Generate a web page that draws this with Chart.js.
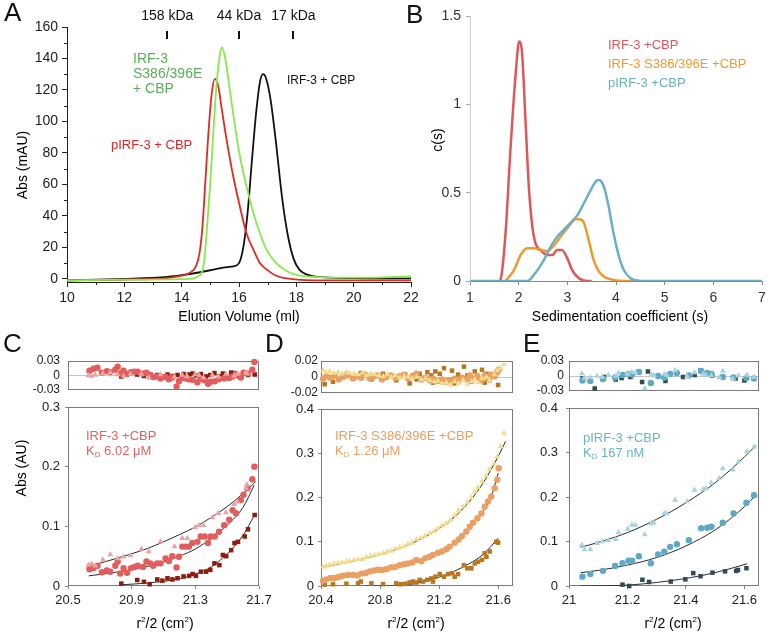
<!DOCTYPE html>
<html>
<head>
<meta charset="utf-8">
<script src="https://cdn.jsdelivr.net/npm/chart.js@4.4.0/dist/chart.umd.min.js"></script>
<style>
  body { margin: 0; background: #fff; width: 768px; height: 633px; position: relative; overflow: hidden;
         font-family: "Liberation Sans", Arial, sans-serif; }
  canvas { position: absolute; }
  .t { position: absolute; white-space: nowrap; line-height: 1; }
  .c { transform: translate(-50%, -50%); }
  .r { transform: translate(-50%, -50%) rotate(-90deg); }
  .big { font-size: 26px; color: #111; }
  sub { font-size: 8px; vertical-align: -2px; }
</style>
</head>
<body>
<canvas id="chartA"></canvas>
<canvas id="chartB"></canvas>
<canvas id="resC"></canvas>
<canvas id="mainC"></canvas>
<canvas id="resD"></canvas>
<canvas id="mainD"></canvas>
<canvas id="resE"></canvas>
<canvas id="mainE"></canvas>

<!-- panel letters and titles -->
<div class="t big" style="left:4px;top:-1px">A</div>
<div class="t big" style="left:406px;top:1px">B</div>
<div class="t big" style="left:3px;top:330px">C</div>
<div class="t big" style="left:265px;top:330px">D</div>
<div class="t big" style="left:523px;top:330px">E</div>

<div class="t r" style="left:22px;top:165px;font-size:14px">Abs (mAU)</div>
<div class="t c" style="left:239px;top:316px;font-size:14px">Elution Volume (ml)</div>
<div class="t r" style="left:437px;top:140px;font-size:14px">c(s)</div>
<div class="t c" style="left:620px;top:316px;font-size:14px">Sedimentation coefficient (s)</div>
<div class="t r" style="left:21px;top:468px;font-size:14px">Abs (AU)</div>
<div class="t c" style="left:165px;top:623px;font-size:14px">r<sup style="font-size:8px">2</sup>/2 (cm<sup style="font-size:8px">2</sup>)</div>
<div class="t c" style="left:416px;top:623px;font-size:14px">r<sup style="font-size:8px">2</sup>/2 (cm<sup style="font-size:8px">2</sup>)</div>
<div class="t c" style="left:673px;top:623px;font-size:14px">r<sup style="font-size:8px">2</sup>/2 (cm<sup style="font-size:8px">2</sup>)</div>

<!-- annotations -->
<div class="t" style="left:133px;top:51px;font-size:14px;line-height:15px;color:#5cae5c">IRF-3<br>S386/396E<br>+ CBP</div>
<div class="t" style="left:111px;top:138px;font-size:13px;color:#d82828">pIRF-3 + CBP</div>
<div class="t" style="left:287px;top:74px;font-size:12px;color:#111">IRF-3 + CBP</div>
<div class="t" style="left:608px;top:35px;font-size:13px;line-height:19px">
  <span style="color:#e0575a">IRF-3 +CBP</span><br>
  <span style="color:#ee9b2d">IRF-3 S386/396E +CBP</span><br>
  <span style="color:#6aafc8">pIRF-3 +CBP</span>
</div>
<div class="t" style="left:86px;top:428px;font-size:13px;line-height:15px;color:#e06464">IRF-3 +CBP<br>K<sub>D</sub> 6.02 μM</div>
<div class="t" style="left:335px;top:428px;font-size:13px;line-height:15px;color:#e9a062">IRF-3 S386/396E +CBP<br>K<sub>D</sub> 1.26 μM</div>
<div class="t" style="left:583px;top:430px;font-size:13px;line-height:15px;color:#6ab4cc">pIRF-3 +CBP<br>K<sub>D</sub> 167 nM</div>

<script>
// ---- A: gel filtration traces (elution volume ml, abs mAU)
const aBlackX = [10, 12, 13.5, 14.06, 14.64, 15.22, 15.57, 15.8, 16.0, 16.15, 16.3, 16.45, 16.6, 16.73, 16.84, 16.95, 17.1, 17.3, 17.5, 17.7, 17.9, 18.1, 18.5, 19, 20, 22];
const aBlackY = [-1, 0, 1.3, 2.5, 4.2, 6.3, 7.4, 8, 10, 20, 42, 75, 106, 125, 130, 127, 114, 85, 52, 28, 13, 6, 2, 1, 0.5, 0.3];
const aRedX = [10, 12, 13.5, 14.0, 14.3, 14.5, 14.62, 14.72, 14.82, 14.93, 15.05, 15.16, 15.28, 15.39, 15.57, 15.8, 16.03, 16.26, 16.5, 16.73, 16.96, 17.3, 17.8, 19, 22];
const aRedY = [-1, -0.5, 0.5, 2, 4, 8, 16, 32, 60, 92, 118, 127, 122, 109, 88, 65, 46, 29, 18.6, 10, 6, 2, 0, -1, -1];
const aGreenX = [10, 12, 14.3, 14.58, 14.76, 14.87, 14.99, 15.1, 15.22, 15.34, 15.41, 15.51, 15.68, 15.86, 16.03, 16.26, 16.5, 16.73, 16.96, 17.3, 17.66, 18.12, 19, 20, 21, 22];
const aGreenY = [-1, -0.5, 0, 1.7, 8, 29, 59, 92, 124, 143, 147, 141, 120, 97, 78, 59, 42, 29, 18.6, 10, 5, 2, 1, 0.8, 1, 1.5];
const aTicksX = [10, 12, 14, 16, 18, 20, 22];
const aMinorX = [11, 13, 15, 17, 19, 21];
const aTicksY = [0, 20, 40, 60, 80, 100, 120, 140, 160];
const aMinorY = [10, 30, 50, 70, 90, 110, 130, 150];
const markerVolumes = [13.5, 16.0, 17.9];
const markerLabels = ['158 kDa', '44 kDa', '17 kDa'];

// ---- B: c(s) distributions
const bRedX = [1.6, 1.63, 1.73, 1.83, 1.94, 2.01, 2.07, 2.14, 2.21, 2.28, 2.35, 2.45, 2.59, 2.69, 2.79, 2.89, 3.0, 3.1, 3.24, 3.41, 3.5];
const bRedY = [0, 0.01, 0.27, 0.74, 1.18, 1.355, 1.29, 0.91, 0.53, 0.31, 0.21, 0.175, 0.147, 0.147, 0.175, 0.175, 0.128, 0.062, 0.015, 0, 0];
const bOrangeX = [1.73, 1.9, 2.04, 2.18, 2.31, 2.45, 2.59, 2.72, 2.86, 3.03, 3.17, 3.25, 3.34, 3.44, 3.54, 3.68, 3.89, 4.16, 4.5];
const bOrangeY = [0, 0.06, 0.147, 0.185, 0.185, 0.175, 0.17, 0.2, 0.25, 0.31, 0.35, 0.35, 0.33, 0.23, 0.12, 0.043, 0.01, 0, 0];
const bBlueX = [1, 2.18, 2.31, 2.52, 2.66, 2.79, 2.93, 3.07, 3.2, 3.34, 3.48, 3.61, 3.65, 3.75, 3.85, 3.95, 4.06, 4.16, 4.3, 4.5, 7];
const bBlueY = [0, 0, 0.034, 0.12, 0.195, 0.25, 0.29, 0.33, 0.37, 0.44, 0.515, 0.57, 0.572, 0.535, 0.42, 0.27, 0.14, 0.062, 0.015, 0, 0];
const bTicksX = [1, 2, 3, 4, 5, 6, 7];
const bTicksY = [0, 0.5, 1, 1.5];

// ---- C: IRF-3 + CBP equilibrium
const cTriX = [20.628, 20.649, 20.671, 20.719, 20.765, 20.812, 20.849, 20.892, 20.961, 21.007, 21.081, 21.169, 21.218, 21.249, 21.298, 21.323, 21.351, 21.407, 21.445, 21.492, 21.544, 21.565, 21.618, 21.624];
const cTriY = [0.035, 0.037, 0.034, 0.044, 0.053, 0.046, 0.049, 0.051, 0.062, 0.058, 0.074, 0.066, 0.080, 0.080, 0.098, 0.102, 0.102, 0.115, 0.122, 0.123, 0.137, 0.141, 0.164, 0.170];
const cTriRes = [0.000, -0.001, 0.001, 0.004, 0.006, 0.002, -0.001, 0.003, 0.003, -0.004, 0.002, -0.003, 0.001, -0.002, 0.002, 0.001, -0.004, 0.001, -0.002, 0.003, -0.001, 0.003, 0.006, 0.004];
const cCircX = [20.635, 20.660, 20.685, 20.713, 20.744, 20.765, 20.797, 20.812, 20.828, 20.849, 20.871, 20.896, 20.917, 20.938, 20.972, 20.993, 21.018, 21.035, 21.060, 21.081, 21.113, 21.134, 21.155, 21.182, 21.197, 21.218, 21.239, 21.260, 21.281, 21.313, 21.334, 21.359, 21.380, 21.397, 21.422, 21.449, 21.481, 21.513, 21.534, 21.555, 21.586, 21.603, 21.628, 21.658, 21.671];
const cCircY = [0.028, 0.030, 0.034, 0.023, 0.026, 0.024, 0.034, 0.041, 0.021, 0.030, 0.022, 0.030, 0.032, 0.034, 0.032, 0.041, 0.038, 0.034, 0.038, 0.038, 0.046, 0.042, 0.050, 0.031, 0.049, 0.066, 0.066, 0.066, 0.072, 0.074, 0.083, 0.083, 0.072, 0.083, 0.083, 0.091, 0.102, 0.111, 0.127, 0.122, 0.144, 0.153, 0.164, 0.179, 0.200];
const cCircRes = [0.010, 0.014, 0.016, 0.006, 0.009, 0.007, 0.012, 0.018, 0.004, 0.010, 0.003, 0.007, 0.008, 0.008, 0.004, 0.006, 0.001, -0.003, -0.002, -0.006, -0.003, -0.008, -0.004, -0.023, -0.012, -0.005, -0.006, -0.008, -0.009, -0.014, -0.007, -0.010, -0.017, -0.013, -0.012, -0.008, -0.006, -0.005, -0.002, 0.003, -0.004, 0.006, 0.004, 0.012, 0.028];
const cSqX = [20.835, 20.935, 20.977, 21.013, 21.061, 21.093, 21.125, 21.156, 21.188, 21.226, 21.261, 21.283, 21.304, 21.335, 21.367, 21.394, 21.420, 21.451, 21.473, 21.494, 21.525, 21.546, 21.568, 21.610, 21.631, 21.673];
const cSqY = [0.004, 0.010, 0.007, 0.003, 0.011, 0.009, 0.013, 0.011, 0.013, 0.016, 0.017, 0.020, 0.017, 0.024, 0.024, 0.027, 0.038, 0.035, 0.052, 0.050, 0.060, 0.072, 0.074, 0.083, 0.095, 0.119];
const cSqRes = [-0.002, 0.002, -0.001, -0.003, 0.001, -0.002, 0.002, -0.001, 0.001, 0.003, 0.002, 0.004, 0.000, 0.003, -0.002, 0.001, 0.005, -0.002, 0.004, -0.003, 0.006, 0.005, -0.001, 0.004, 0.001, 0.002];
const cFitTopX = [20.62, 20.75, 20.9, 21.0, 21.1, 21.2, 21.3, 21.4, 21.5, 21.6, 21.68];
const cFitTopY = [0.032, 0.042, 0.054, 0.063, 0.074, 0.086, 0.099, 0.115, 0.133, 0.155, 0.175];
const cFitMidX = [20.63, 20.8, 20.95, 21.1, 21.2, 21.3, 21.4, 21.5, 21.6, 21.67];
const cFitMidY = [0.017, 0.023, 0.030, 0.040, 0.050, 0.062, 0.080, 0.102, 0.132, 0.169];
const cFitLowX = [20.83, 21.0, 21.2, 21.3, 21.4, 21.5, 21.6, 21.67];
const cFitLowY = [0.002, 0.005, 0.012, 0.020, 0.032, 0.054, 0.085, 0.118];
const cTicksX = [20.5, 20.9, 21.3, 21.7];
const cTicksY = [0, 0.1, 0.2, 0.3];
const cResTicks = [-0.03, 0, 0.03];

// ---- D: IRF-3 S386/396E + CBP
const dTriX = [20.414, 20.436, 20.459, 20.488, 20.515, 20.542, 20.572, 20.594, 20.623, 20.651, 20.678, 20.707, 20.736, 20.763, 20.791, 20.820, 20.849, 20.876, 20.903, 20.933, 20.962, 20.989, 21.016, 21.046, 21.079, 21.107, 21.136, 21.165, 21.192, 21.219, 21.249, 21.278, 21.305, 21.332, 21.362, 21.391, 21.418, 21.441, 21.463, 21.490, 21.520, 21.542, 21.572, 21.594, 21.617, 21.639];
const dTriY = [0.043, 0.046, 0.048, 0.050, 0.052, 0.053, 0.055, 0.056, 0.059, 0.060, 0.060, 0.065, 0.068, 0.070, 0.072, 0.074, 0.078, 0.079, 0.084, 0.087, 0.090, 0.095, 0.098, 0.105, 0.109, 0.113, 0.119, 0.123, 0.130, 0.136, 0.142, 0.149, 0.160, 0.170, 0.179, 0.188, 0.200, 0.213, 0.223, 0.236, 0.249, 0.264, 0.277, 0.292, 0.315, 0.345];
const dTriRes = [0.008, 0.006, 0.007, 0.005, 0.006, 0.004, 0.006, 0.005, 0.004, 0.003, 0.005, 0.002, 0.004, 0.003, 0.002, 0.001, 0.003, 0.000, 0.002, -0.001, 0.001, 0.000, -0.002, 0.000, -0.003, -0.002, -0.004, -0.006, -0.005, -0.008, -0.007, -0.010, -0.006, -0.008, -0.004, -0.009, -0.006, -0.003, -0.007, -0.002, 0.000, -0.004, 0.003, 0.008, 0.011, 0.016];
const dCircX = [20.414, 20.436, 20.465, 20.493, 20.520, 20.549, 20.583, 20.617, 20.646, 20.673, 20.700, 20.730, 20.759, 20.786, 20.813, 20.842, 20.872, 20.903, 20.933, 20.962, 20.989, 21.018, 21.046, 21.079, 21.107, 21.136, 21.158, 21.192, 21.219, 21.249, 21.271, 21.305, 21.332, 21.355, 21.384, 21.407, 21.429, 21.459, 21.486, 21.508, 21.531, 21.553, 21.576, 21.594, 21.603];
const dCircY = [0.012, 0.015, 0.018, 0.018, 0.021, 0.023, 0.025, 0.025, 0.024, 0.028, 0.029, 0.033, 0.035, 0.037, 0.036, 0.038, 0.042, 0.043, 0.047, 0.049, 0.051, 0.053, 0.059, 0.056, 0.063, 0.066, 0.070, 0.075, 0.078, 0.083, 0.089, 0.098, 0.105, 0.113, 0.123, 0.134, 0.143, 0.153, 0.164, 0.179, 0.191, 0.202, 0.221, 0.240, 0.266];
const dCircRes = [-0.002, 0.001, -0.001, 0.002, -0.003, 0.000, 0.002, -0.002, 0.001, -0.001, 0.003, -0.002, 0.001, 0.002, -0.003, 0.000, 0.002, -0.001, 0.001, 0.003, -0.002, 0.000, 0.004, -0.003, -0.001, -0.004, -0.002, -0.005, -0.003, -0.006, -0.004, -0.002, -0.005, -0.001, -0.003, 0.002, -0.002, 0.001, -0.004, 0.002, -0.001, 0.003, 0.001, 0.006, 0.009];
const dSqX = [20.425, 20.481, 20.572, 20.651, 20.669, 20.741, 20.820, 20.910, 20.940, 20.971, 21.000, 21.023, 21.046, 21.068, 21.091, 21.120, 21.147, 21.158, 21.174, 21.204, 21.233, 21.260, 21.287, 21.305, 21.328, 21.368, 21.391, 21.418, 21.441, 21.463, 21.490, 21.508, 21.520, 21.542, 21.587, 21.599];
const dSqY = [0.003, 0.004, 0.005, 0.006, 0.010, 0.006, 0.004, 0.006, 0.004, 0.005, 0.008, 0.010, 0.008, 0.014, 0.010, 0.014, 0.017, 0.010, 0.021, 0.027, 0.021, 0.027, 0.029, 0.021, 0.027, 0.047, 0.040, 0.040, 0.051, 0.055, 0.059, 0.074, 0.066, 0.078, 0.100, 0.098];
const dSqRes = [-0.009, -0.006, 0.004, 0.002, 0.005, -0.003, 0.004, -0.004, 0.001, 0.003, -0.008, 0.002, -0.003, 0.004, -0.002, 0.006, 0.002, -0.007, 0.007, 0.004, 0.011, -0.004, 0.008, -0.008, 0.003, 0.013, 0.002, -0.006, 0.007, -0.002, 0.009, -0.007, 0.004, -0.004, 0.006, -0.010];
const dFitTopX = [20.41, 20.6, 20.8, 21.0, 21.2, 21.3, 21.4, 21.5, 21.6, 21.65];
const dFitTopY = [0.042, 0.055, 0.071, 0.094, 0.130, 0.155, 0.189, 0.234, 0.293, 0.327];
const dFitMidX = [20.41, 20.6, 20.8, 21.0, 21.1, 21.2, 21.3, 21.4, 21.5, 21.55, 21.6];
const dFitMidY = [0.012, 0.022, 0.035, 0.052, 0.062, 0.077, 0.097, 0.127, 0.170, 0.200, 0.255];
const dFitLowX = [20.7, 20.9, 21.0, 21.1, 21.2, 21.3, 21.4, 21.5, 21.6];
const dFitLowY = [0.0, 0.0, 0.003, 0.010, 0.020, 0.033, 0.050, 0.072, 0.108];
const dTicksX = [20.4, 20.8, 21.2, 21.6];
const dTicksY = [0, 0.1, 0.2, 0.3, 0.4];
const dResTicks = [-0.02, 0, 0.02];

// ---- E: pIRF-3 + CBP
const eTriX = [21.044, 21.053, 21.073, 21.096, 21.114, 21.135, 21.160, 21.169, 21.201, 21.215, 21.227, 21.259, 21.282, 21.290, 21.326, 21.334, 21.363, 21.404, 21.429, 21.459, 21.468, 21.487, 21.514, 21.526, 21.560, 21.580, 21.609, 21.633];
const eTriY = [0.092, 0.082, 0.082, 0.096, 0.100, 0.103, 0.105, 0.120, 0.128, 0.137, 0.137, 0.116, 0.141, 0.142, 0.163, 0.163, 0.193, 0.190, 0.216, 0.217, 0.219, 0.232, 0.242, 0.264, 0.261, 0.279, 0.302, 0.313];
const eTriRes = [0.005, -0.004, -0.003, 0.000, -0.002, 0.002, 0.000, 0.006, 0.004, 0.008, 0.007, -0.025, 0.003, 0.001, 0.004, 0.002, 0.011, -0.001, 0.007, 0.004, 0.002, 0.001, -0.003, 0.010, -0.006, 0.001, 0.002, -0.002];
const eCircX = [21.046, 21.073, 21.116, 21.158, 21.183, 21.204, 21.216, 21.239, 21.280, 21.305, 21.326, 21.346, 21.369, 21.410, 21.452, 21.473, 21.487, 21.526, 21.563, 21.607, 21.633];
const eCircY = [0.021, 0.027, 0.034, 0.045, 0.051, 0.057, 0.057, 0.067, 0.051, 0.071, 0.077, 0.088, 0.094, 0.103, 0.130, 0.131, 0.133, 0.142, 0.163, 0.187, 0.204];
const eCircRes = [-0.009, -0.010, -0.006, -0.003, 0.002, 0.004, 0.003, 0.008, -0.014, 0.000, -0.003, 0.004, 0.006, 0.001, 0.010, 0.006, 0.004, -0.002, -0.003, -0.004, -0.005];
const eSqX = [21.183, 21.206, 21.251, 21.274, 21.348, 21.398, 21.425, 21.450, 21.491, 21.534, 21.572, 21.578, 21.607];
const eSqY = [0.003, 0.000, 0.014, 0.009, 0.010, 0.015, 0.029, 0.022, 0.030, 0.033, 0.034, 0.036, 0.040];
const eSqResX = [21.046, 21.088, 21.12, 21.16, 21.18, 21.21, 21.25, 21.27, 21.33, 21.39, 21.43, 21.45, 21.49, 21.57, 21.6];
const eSqRes = [-0.005, -0.025, -0.002, -0.007, -0.004, -0.002, -0.012, 0.009, -0.010, -0.002, 0.002, 0.011, 0.001, -0.005, -0.009];
const eFitTopX = [21.04, 21.1, 21.2, 21.3, 21.4, 21.5, 21.6, 21.64];
const eFitTopY = [0.087, 0.098, 0.120, 0.150, 0.187, 0.232, 0.290, 0.316];
const eFitMidX = [21.04, 21.1, 21.2, 21.3, 21.4, 21.5, 21.6, 21.64];
const eFitMidY = [0.030, 0.035, 0.047, 0.064, 0.090, 0.126, 0.178, 0.205];
const eFitLowX = [21.04, 21.2, 21.3, 21.4, 21.5, 21.61];
const eFitLowY = [0.0, 0.002, 0.008, 0.017, 0.030, 0.050];
const eTicksX = [21, 21.2, 21.4, 21.6];
const eTicksY = [0, 0.1, 0.2, 0.3, 0.4];
const eResTicks = [-0.03, 0, 0.03];

Chart.defaults.font.family = '"Liberation Sans", Arial, sans-serif';

const zip = (xs, ys) => xs.map((x, i) => ({ x: x, y: ys[i] }));

// full frame round the plot area (panels C-E)
const boxPlugin = {
  id: 'box',
  beforeDatasetsDraw(chart) {
    const o = chart.options.plugins.box;
    if (!o || !o.color) return;
    const a = chart.chartArea, ctx = chart.ctx;
    ctx.save();
    ctx.strokeStyle = o.color;
    ctx.lineWidth = o.width;
    ctx.strokeRect(a.left + 0.5, a.top + 0.5, a.right - a.left - 1, a.bottom - a.top - 1);
    ctx.restore();
  }
};

// minor ticks and size markers for panel A
const aExtras = {
  id: 'aExtras',
  afterDraw(chart) {
    const ctx = chart.ctx, xs = chart.scales.x, ys = chart.scales.y, a = chart.chartArea;
    ctx.save();
    ctx.strokeStyle = '#222';
    ctx.lineWidth = 1;
    ctx.beginPath();
    aMinorX.forEach(v => {
      const px = Math.round(xs.getPixelForValue(v)) + 0.5;
      ctx.moveTo(px, a.bottom); ctx.lineTo(px, a.bottom + 3);
    });
    aMinorY.forEach(v => {
      const py = Math.round(ys.getPixelForValue(v)) + 0.5;
      ctx.moveTo(a.left, py); ctx.lineTo(a.left - 3, py);
    });
    ctx.stroke();
    ctx.fillStyle = '#111';
    ctx.font = '14px "Liberation Sans", Arial, sans-serif';
    ctx.textAlign = 'center';
    ctx.textBaseline = 'middle';
    markerVolumes.forEach((v, i) => {
      const px = xs.getPixelForValue(v);
      ctx.fillText(markerLabels[i], px, 16);
      ctx.fillRect(Math.round(px) - 1, 31, 2, 8);
    });
    ctx.restore();
  }
};

function axis(min, max, ticks, o) {
  return {
    type: 'linear',
    display: o.display !== false,
    min: min, max: max,
    afterBuildTicks: s => { s.ticks = ticks.map(v => ({ value: v })); },
    afterFit: s => { if (s.isHorizontal()) s.height = o.size; else s.width = o.size; },
    ticks: {
      display: o.labels !== false,
      color: o.color || '#222',
      font: { size: o.font || 13 },
      padding: o.pad || 3,
      autoSkip: false, maxRotation: 0,
      callback: v => String(v)
    },
    grid: {
      display: true,
      drawOnChartArea: !!o.zero,
      color: o.zero ? (ctx => (ctx.tick && ctx.tick.value === 0) ? '#c4c4c4' : 'rgba(0,0,0,0)') : '#222',
      drawTicks: (o.tick || 0) > 0,
      tickLength: o.tick || 0,
      tickColor: o.tickColor || '#222',
      lineWidth: 1
    },
    border: { display: o.border !== undefined, color: o.border || '#222', width: 1 }
  };
}

// canvas is placed so that the plot area lands on box (page pixels)
function makeChart(id, box, yW, xH, pad, datasets, scales, plugins, boxColor) {
  const c = document.getElementById(id);
  const w = (box.r - box.l) + yW + pad.l + pad.r;
  const h = (box.b - box.t) + xH + pad.t + pad.b;
  c.width = w; c.height = h;
  c.style.width = w + 'px'; c.style.height = h + 'px';
  c.style.left = (box.l - yW - pad.l) + 'px';
  c.style.top = (box.t - pad.t) + 'px';
  return new Chart(c, {
    type: 'scatter',
    data: { datasets: datasets },
    options: {
      responsive: false, animation: false, devicePixelRatio: 1,
      layout: { padding: { left: pad.l, right: pad.r, top: pad.t, bottom: pad.b } },
      plugins: { legend: { display: false }, tooltip: { enabled: false }, box: { color: boxColor || null, width: 1 } },
      scales: scales
    },
    plugins: [boxPlugin].concat(plugins || [])
  });
}

const curve = (xs, ys, color, w) => ({
  data: zip(xs, ys), showLine: true, pointRadius: 0, borderColor: color, borderWidth: w,
  cubicInterpolationMode: 'monotone', fill: false
});
const pts = (xs, ys, color, style, r) => ({
  data: zip(xs, ys), showLine: false, pointStyle: style, pointRadius: r,
  backgroundColor: color, borderColor: color, borderWidth: 0, clip: false
});
const fit = (xs, ys) => curve(xs, ys, '#2b2b2b', 1);

// ---- panel A
makeChart('chartA', { l: 67, r: 411, t: 27, b: 282 }, 60, 30, { l: 4, r: 14, t: 27, b: 2 }, [
  curve(aGreenX, aGreenY, '#86ea4a', 1.8),
  curve(aRedX, aRedY, '#e02a22', 1.8),
  curve(aBlackX, aBlackY, '#111', 1.8)
], {
  x: axis(10, 22, aTicksX, { size: 30, tick: 5, pad: 3, font: 14, border: '#222' }),
  y: axis(-2, 160, aTicksY, { size: 60, tick: 5, pad: 4, font: 14, border: '#222' })
}, [aExtras]);

// ---- panel B
makeChart('chartB', { l: 470, r: 762, t: 16, b: 281 }, 40, 30, { l: 2, r: 12, t: 16, b: 2 }, [
  curve(bBlueX, bBlueY, '#6aafc8', 2.5),
  curve(bOrangeX, bOrangeY, '#ee9b2d', 2.5),
  curve(bRedX, bRedY, '#e0575a', 2.5)
], {
  x: axis(1, 7, bTicksX, { size: 30, tick: 4, pad: 5, font: 14, color: '#333', border: '#8a8a8a', tickColor: '#8a8a8a' }),
  y: axis(0, 1.5, bTicksY, { size: 40, tick: 4, pad: 5, font: 14, color: '#333', border: '#cfcfcf', tickColor: '#aaa' })
});

// ---- residual and fit panels C, D, E
function resPanel(id, box, ticks, yPad, sets) {
  makeChart(id, box, 45, 0, { l: 2, r: 4, t: 18, b: 18 }, sets, {
    x: axis(box.xmin, box.xmax, [], { display: false, size: 0 }),
    y: axis(ticks[0], ticks[ticks.length - 1], ticks, { size: 45, pad: yPad, zero: true, font: 12 })
  }, [], '#7a7a7a');
}
function mainPanel(id, box, xTicks, yTicks, yPad, sets) {
  makeChart(id, box, 45, 28, { l: 2, r: 22, t: 18, b: 2 }, sets, {
    x: axis(box.xmin, box.xmax, xTicks, { size: 28, tick: 3, pad: 4, tickColor: '#888' }),
    y: axis(yTicks[0], yTicks[yTicks.length - 1], yTicks, { size: 45, tick: 3, pad: yPad, tickColor: '#888' })
  }, [], '#7a7a7a');
}

const cRes = { l: 68, r: 259, t: 361, b: 390, xmin: 20.5, xmax: 21.7 };
const cMain = { l: 68, r: 259, t: 407, b: 586, xmin: 20.5, xmax: 21.7 };
resPanel('resC', cRes, cResTicks, 8, [
  pts(cTriX, cTriRes, '#eba3a3', 'triangle', 3.5),
  pts(cCircX, cCircRes, '#e35d5d', 'circle', 3.2),
  pts(cSqX, cSqRes, '#8e1b0e', 'rect', 3.2)
]);
mainPanel('mainC', cMain, cTicksX, cTicksY, 5, [
  pts(cTriX, cTriY, '#eba3a3', 'triangle', 3.5),
  pts(cCircX, cCircY, '#e35d5d', 'circle', 3.2),
  pts(cSqX, cSqY, '#8e1b0e', 'rect', 3.2),
  fit(cFitTopX, cFitTopY), fit(cFitMidX, cFitMidY), fit(cFitLowX, cFitLowY)
]);

const dRes = { l: 321, r: 513, t: 361, b: 393, xmin: 20.4, xmax: 21.7 };
const dMain = { l: 321, r: 513, t: 409, b: 586, xmin: 20.4, xmax: 21.7 };
resPanel('resD', dRes, dResTicks, 3, [
  pts(dTriX, dTriRes, '#f2dc8e', 'triangle', 3.5),
  pts(dCircX, dCircRes, '#e9a062', 'circle', 3.2),
  pts(dSqX, dSqRes, '#b9761f', 'rect', 3.2)
]);
mainPanel('mainD', dMain, dTicksX, dTicksY, 4, [
  pts(dTriX, dTriY, '#f2dc8e', 'triangle', 3.5),
  pts(dCircX, dCircY, '#e9a062', 'circle', 3.2),
  pts(dSqX, dSqY, '#b9761f', 'rect', 3.2),
  fit(dFitTopX, dFitTopY), fit(dFitMidX, dFitMidY), fit(dFitLowX, dFitLowY)
]);

const eRes = { l: 569, r: 759, t: 361, b: 391, xmin: 21, xmax: 21.65 };
const eMain = { l: 569, r: 759, t: 408, b: 586, xmin: 21, xmax: 21.65 };
resPanel('resE', eRes, eResTicks, 5, [
  pts(eTriX, eTriRes, '#a9d3df', 'triangle', 3.5),
  pts(eCircX, eCircRes, '#5da9c5', 'circle', 3.2),
  pts(eSqResX, eSqRes, '#2e4b5c', 'rect', 3.2)
]);
mainPanel('mainE', eMain, eTicksX, eTicksY, 8, [
  pts(eTriX, eTriY, '#a9d3df', 'triangle', 3.5),
  pts(eCircX, eCircY, '#5da9c5', 'circle', 3.2),
  pts(eSqX, eSqY, '#2e4b5c', 'rect', 3.2),
  fit(eFitTopX, eFitTopY), fit(eFitMidX, eFitMidY), fit(eFitLowX, eFitLowY)
]);
</script>
</body>
</html>
